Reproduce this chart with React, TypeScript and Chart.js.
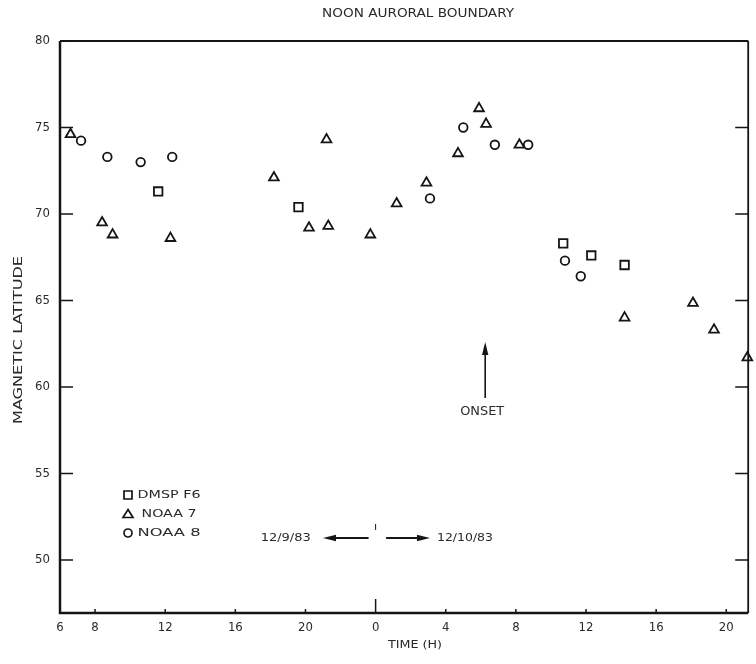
import React, { useEffect, useRef } from "react";
import { Chart, registerables } from "chart.js";
Chart.register(...registerables);

// ---- data (hours since 0 UT on 12/9/83; magnetic latitude in degrees)
const dmspHours = [11.6, 19.6, 34.7, 36.3, 38.2];
const dmspLat = [71.3, 70.4, 68.3, 67.6, 67.05];

const noaa7Hours = [6.6, 8.4, 9.0, 12.3, 18.2, 20.2, 21.2, 21.3, 23.7, 25.2, 26.9, 28.7, 29.9, 30.3, 32.2, 38.2, 42.1, 43.3, 45.2];
const noaa7Lat = [74.6, 69.5, 68.8, 68.6, 72.1, 69.2, 74.3, 69.3, 68.8, 70.6, 71.8, 73.5, 76.1, 75.2, 74.0, 64.0, 64.85, 63.3, 61.7];

const noaa8Hours = [7.2, 8.7, 10.6, 12.4, 27.1, 29.0, 30.8, 32.7, 34.8, 35.7];
const noaa8Lat = [74.24, 73.3, 73.0, 73.3, 70.9, 75.0, 74.0, 74.0, 67.3, 66.4];

const yTickValues = [50, 55, 60, 65, 70, 75, 80];
const xTickValues = [6, 8, 12, 16, 20, 24, 28, 32, 36, 40, 44];
const xTickLabels = ["6", "8", "12", "16", "20", "0", "4", "8", "12", "16", "20"];
const seriesNames = ["DMSP F6", "NOAA 7", "NOAA 8"];
const seriesStyles = ["rect", "triangle", "circle"];

const TITLE = "NOON AURORAL BOUNDARY";
const Y_TITLE = "MAGNETIC LATITUDE";
const X_TITLE = "TIME (H)";
const DAY1 = "12/9/83";
const DAY2 = "12/10/83";
const ONSET = "ONSET";
const onsetHour = 30.25;
const dayBoundary = 24;

const FONT = "'DejaVu Sans Condensed', 'Liberation Sans Narrow', 'Liberation Sans', sans-serif";
const INK = "#151515";
const TXT = "#2a2a2a";

function fitText(ctx: CanvasRenderingContext2D, text: string, cx: number, cy: number, width: number, size: number, rot = 0) {
  ctx.save();
  ctx.font = `${size}px ${FONT}`;
  const m = ctx.measureText(text).width;
  ctx.translate(cx, cy);
  if (rot) ctx.rotate(rot);
  ctx.scale(width / m, 1);
  ctx.textAlign = "center";
  ctx.textBaseline = "middle";
  ctx.fillStyle = TXT;
  ctx.fillText(text, 0, 0);
  ctx.restore();
}

function marker(ctx: CanvasRenderingContext2D, kind: string, x: number, y: number) {
  ctx.beginPath();
  if (kind === "rect") ctx.rect(x - 4, y - 4, 8, 8);
  else if (kind === "triangle") {
    ctx.moveTo(x, y - 4.5);
    ctx.lineTo(x + 5, y + 3.5);
    ctx.lineTo(x - 5, y + 3.5);
    ctx.closePath();
  } else ctx.arc(x, y, 4, 0, Math.PI * 2);
  ctx.stroke();
}

function arrowHead(ctx: CanvasRenderingContext2D, x: number, y: number, dx: number, dy: number) {
  const len = 13, hw = 3.2;
  const px = -dy, py = dx;
  ctx.beginPath();
  ctx.moveTo(x, y);
  ctx.lineTo(x - dx * len + px * hw, y - dy * len + py * hw);
  ctx.lineTo(x - dx * len - px * hw, y - dy * len - py * hw);
  ctx.closePath();
  ctx.fill();
}

const decor = {
  id: "decor",
  afterDraw(chart: any) {
    const { ctx, chartArea: a, scales } = chart;
    const xs = scales.x, ys = scales.y;
    ctx.save();
    ctx.strokeStyle = INK;
    ctx.fillStyle = INK;
    // frame
    ctx.lineWidth = 2.5;
    ctx.beginPath();
    ctx.moveTo(a.left, a.top);
    ctx.lineTo(a.left, a.bottom);
    ctx.lineTo(a.right, a.bottom);
    ctx.stroke();
    ctx.lineWidth = 1.8;
    ctx.beginPath();
    ctx.moveTo(a.left, a.top);
    ctx.lineTo(a.right, a.top);
    ctx.moveTo(a.right, a.top);
    ctx.lineTo(a.right, a.bottom);
    ctx.stroke();
    // y ticks (inward, both sides)
    ctx.lineWidth = 1.5;
    yTickValues.forEach((v) => {
      const y = ys.getPixelForValue(v);
      ctx.beginPath();
      ctx.moveTo(a.left, y);
      ctx.lineTo(a.left + 13, y);
      ctx.moveTo(a.right - 13, y);
      ctx.lineTo(a.right, y);
      ctx.stroke();
    });
    // x ticks (inward)
    xTickValues.forEach((v) => {
      const x = xs.getPixelForValue(v);
      ctx.beginPath();
      ctx.moveTo(x, a.bottom);
      ctx.lineTo(x, a.bottom - (v === dayBoundary ? 14 : 4));
      ctx.stroke();
    });
    // title & axis titles
    fitText(ctx, TITLE, 418, 14, 192, 12);
    fitText(ctx, Y_TITLE, 19, 340, 168, 12, -Math.PI / 2);
    fitText(ctx, X_TITLE, 415, 645, 54, 11);

    // legend
    ctx.lineWidth = 1.7;
    const lx = a.left + 68;
    const rows = [495, 514, 533];
    seriesNames.forEach((n, i) => {
      marker(ctx, seriesStyles[i], lx, rows[i]);
      fitText(ctx, n, lx + 9 + 32, rows[i], n === "NOAA 7" ? 55 : 63, 11);
    });

    // day arrows
    const yDay = ys.getPixelForValue(51.27);
    const xd = xs.getPixelForValue(dayBoundary);
    ctx.lineWidth = 2;
    const l1 = xs.getPixelForValue(21.0), l2 = xs.getPixelForValue(23.6);
    const r1 = xs.getPixelForValue(24.6), r2 = xs.getPixelForValue(27.1);
    ctx.beginPath();
    ctx.moveTo(l1 + 4, yDay);
    ctx.lineTo(l2, yDay);
    ctx.moveTo(r1, yDay);
    ctx.lineTo(r2 - 4, yDay);
    ctx.stroke();
    arrowHead(ctx, l1, yDay, -1, 0);
    arrowHead(ctx, r2, yDay, 1, 0);
    ctx.lineWidth = 1;
    ctx.beginPath();
    ctx.moveTo(xd, yDay - 14);
    ctx.lineTo(xd, yDay - 8);
    ctx.stroke();
    fitText(ctx, DAY1, xs.getPixelForValue(20.3) - 25, yDay, 50, 11);
    fitText(ctx, DAY2, xs.getPixelForValue(27.5) + 28, yDay, 56, 11);

    // onset arrow
    const ox = xs.getPixelForValue(onsetHour);
    const oTop = ys.getPixelForValue(62.6);
    const oBot = ys.getPixelForValue(59.36);
    ctx.lineWidth = 1.6;
    ctx.beginPath();
    ctx.moveTo(ox, oBot);
    ctx.lineTo(ox, oTop + 6);
    ctx.stroke();
    arrowHead(ctx, ox, oTop, 0, -1);
    fitText(ctx, ONSET, ox - 3, ys.getPixelForValue(58.55), 44, 12);
    ctx.restore();
  },
};

function pts(xs: number[], ys: number[]) {
  return xs.map((x, i) => ({ x, y: ys[i] }));
}

export default function App() {
  const ref = useRef<HTMLCanvasElement>(null);
  useEffect(() => {
    if (!ref.current) return;
    const common = {
      showLine: false,
      backgroundColor: "rgba(0,0,0,0)",
      borderColor: INK,
      borderWidth: 1.8,
      clip: false as any,
    };
    const chart = new Chart(ref.current, {
      type: "scatter",
      data: {
        datasets: [
          { ...common, label: seriesNames[0], data: pts(dmspHours, dmspLat), pointStyle: "rect", pointRadius: 6 },
          { ...common, label: seriesNames[1], data: pts(noaa7Hours, noaa7Lat), pointStyle: "triangle", pointRadius: 5.6 },
          { ...common, label: seriesNames[2], data: pts(noaa8Hours, noaa8Lat), pointStyle: "circle", pointRadius: 4.3 },
        ],
      },
      options: {
        responsive: false,
        animation: false,
        events: [],
        layout: { padding: { top: 41, right: 3, left: 0, bottom: 0 } },
        plugins: { legend: { display: false }, tooltip: { enabled: false }, title: { display: false } },
        scales: {
          x: {
            type: "linear",
            min: 6,
            max: 45.25,
            grid: { display: false, drawTicks: false },
            border: { display: false },
            afterBuildTicks: (s: any) => {
              s.ticks = xTickValues.map((v) => ({ value: v }));
            },
            afterFit: (s: any) => {
              s.height = 51;
            },
            ticks: {
              padding: 7,
              color: TXT,
              font: { size: 13, family: FONT },
              maxRotation: 0,
              autoSkip: false,
              callback: (v: any) => xTickLabels[xTickValues.indexOf(Number(v))] ?? "",
            },
          },
          y: {
            type: "linear",
            min: 46.93,
            max: 80,
            grid: { display: false, drawTicks: false },
            border: { display: false },
            afterBuildTicks: (s: any) => {
              s.ticks = yTickValues.map((v) => ({ value: v }));
            },
            afterFit: (s: any) => {
              s.width = 60;
            },
            ticks: {
              padding: 10,
              color: TXT,
              font: { size: 13, family: FONT },
              callback: (v: any) => String(v),
            },
          },
        },
      },
      plugins: [decor],
    });
    return () => chart.destroy();
  }, []);
  return (
    <div style={{ position: "fixed", left: 0, top: 0, width: 756, height: 664, background: "#fff" }}>
      <canvas ref={ref} width={756} height={664} style={{ display: "block" }} />
    </div>
  );
}
